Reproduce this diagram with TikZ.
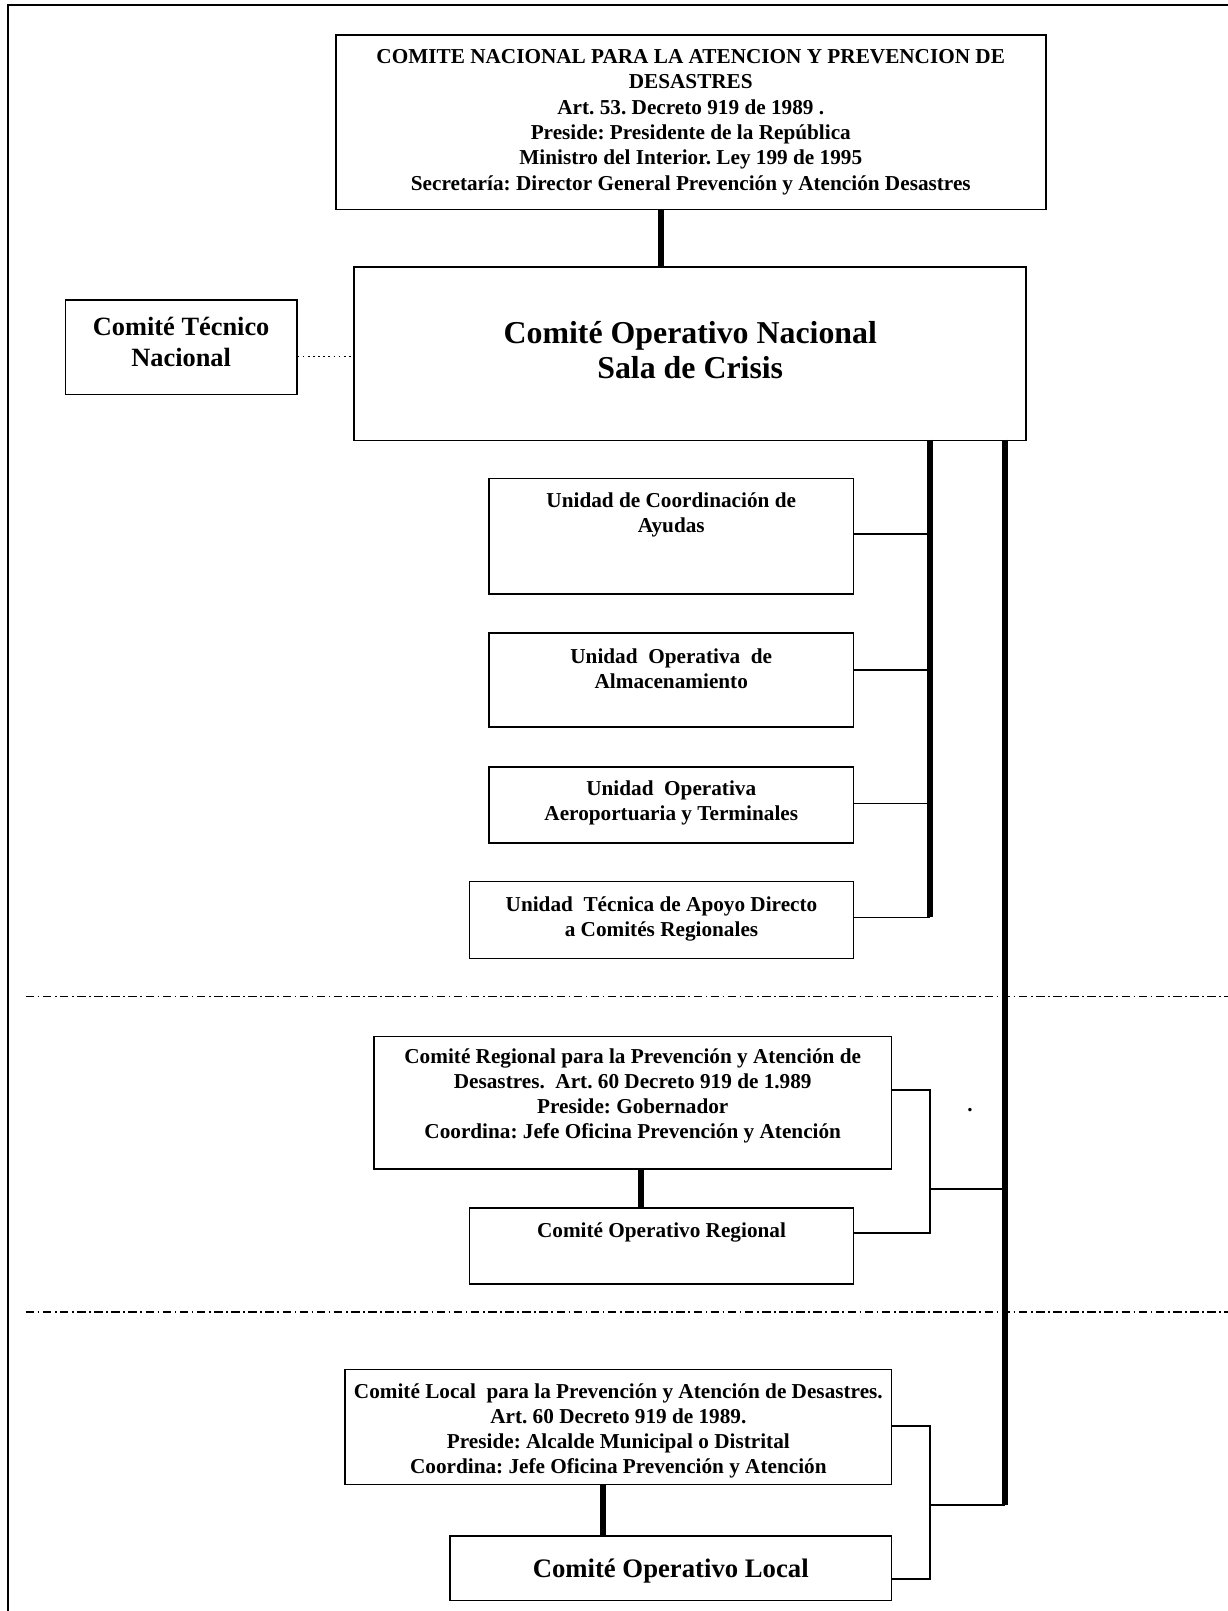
\documentclass[tikz,border=0pt]{standalone}
\usepackage{fontspec}
\setmainfont{Liberation Serif}
\usetikzlibrary{calc}
\frenchspacing
\newcommand{\bt}[4]{\parbox[c][#2][c]{#1}{\centering #4\par\vspace{#3}}}
\begin{document}
\begin{tikzpicture}[x=0.6pt,y=-0.6pt,
  box/.style={draw, line width=1pt, inner sep=0pt, anchor=north west, font=\bfseries\fontsize{12.4}{14.6}\selectfont},
  heavy/.style={line width=3.6pt},
  thinln/.style={line width=1pt},
  frameln/.style={line width=1.3pt},
  sepline/.style={line width=0.7pt, dash pattern=on 5pt off 2pt on 1pt off 2pt}]
\useasboundingbox (0,0) rectangle (1195,1568);
% frame
\draw[frameln] (8,1568) -- (8,5) -- (1195,5);
% boxes
\node[box, font=\bfseries\fontsize{12.4}{14.8}\selectfont] (top) at (326,33) {\bt{414.6pt}{102pt}{0pt}{COMITE NACIONAL PARA LA ATENCION Y PREVENCION DE\\DESASTRES\\Art. 53. Decreto 919 de 1989 .\\Preside: Presidente de la República\\Ministro del Interior. Ley 199 de 1995\\Secretaría: Director General Prevención y Atención Desastres}};
\node[box, font=\bfseries\fontsize{18.6}{20.4}\selectfont] (con) at (344,259) {\bt{392.4pt}{101.4pt}{4.4pt}{Comité Operativo Nacional\\Sala de Crisis}};
\node[box, font=\bfseries\fontsize{15.4}{18}\selectfont] (tec) at (63,291) {\bt{135pt}{55.2pt}{6pt}{Comité Técnico\\Nacional}};
\node[box] (u1) at (475,465) {\bt{213pt}{67.2pt}{25.2pt}{Unidad de Coordinación de\\Ayudas}};
\node[box] (u2) at (475,615) {\bt{213pt}{55.2pt}{13.2pt}{Unidad\ \ Operativa\ \ de\\Almacenamiento}};
\node[box] (u3) at (475,746) {\bt{213pt}{44.4pt}{2.4pt}{Unidad\ \ Operativa\\Aeroportuaria y Terminales}};
\node[box] (u4) at (456,857) {\bt{224.4pt}{45pt}{1pt}{Unidad\ \ Técnica de Apoyo Directo\\a Comités Regionales}};
\node[box] (reg) at (363,1008) {\bt{302.4pt}{77.4pt}{8.4pt}{Comité Regional para la Prevención y Atención de\\Desastres.\ \ Art. 60 Decreto 919 de 1.989\\Preside: Gobernador\\Coordina: Jefe Oficina Prevención y Atención}};
\node[box] (opreg) at (456,1175) {\bt{224.4pt}{44.4pt}{15.6pt}{Comité Operativo Regional}};
\node[box] (loc) at (335,1332) {\bt{319.2pt}{67.2pt}{-4.8pt}{Comité Local\ \ para la Prevención y Atención de Desastres.\\Art. 60 Decreto 919 de 1989.\\Preside: Alcalde Municipal o Distrital\\Coordina: Jefe Oficina Prevención y Atención}};
\node[box, font=\bfseries\fontsize{15.6}{18}\selectfont] (oploc) at (437,1494) {\bt{258pt}{37.8pt}{-3pt}{Comité Operativo Local}};
\node[inner sep=0pt, font=\bfseries\fontsize{12.4}{14.6}\selectfont] (dot) at (944,1080) {.};
% named points on the buses
\coordinate (busA) at (905,428);
\coordinate (busB) at (978,428);
\coordinate (busAend) at (905,893);
\coordinate (busBend) at (978,1465);
\coordinate (brR) at (905,1061);
\coordinate (brL) at (905,1388);
% separators
\coordinate (s1a) at (25,970); \coordinate (s1b) at (1195,970);
\coordinate (s2a) at (25,1277); \coordinate (s2b) at (1195,1277);
\draw[sepline] (s1a) -- (s1b);
\draw[sepline] (s2a) -- (s2b);
% connectors
\draw[heavy] (top.south -| 643,0) -- (con.north -| 643,0);
\draw[thinln, dotted] (tec.east |- 0,347) -- (con.west |- 0,347);
\draw[heavy] (busA) -- (busAend);
\draw[heavy] (busB) -- (busBend);
\draw[thinln] (u1.east |- 0,520) -- (busA |- 0,520);
\draw[thinln] (u2.east |- 0,652) -- (busA |- 0,652);
\draw[thinln] (u3.east |- 0,782) -- (busA |- 0,782);
\draw[thinln] (u4.east |- busAend) -- (busAend);
\draw[heavy] (reg.south -| 624,0) -- (opreg.north -| 624,0);
\draw[thinln] (reg.east |- brR) -- (brR) -- (905,1200) -- (opreg.east |- 0,1200);
\draw[thinln] (905,1157) -- (busB |- 0,1157);
\draw[heavy] (loc.south -| 587,0) -- (oploc.north -| 587,0);
\draw[thinln] (loc.east |- brL) -- (brL) -- (905,1537) -- (oploc.east |- 0,1537);
\draw[thinln] (905,1465) -- (busBend);
\end{tikzpicture}
\end{document}
